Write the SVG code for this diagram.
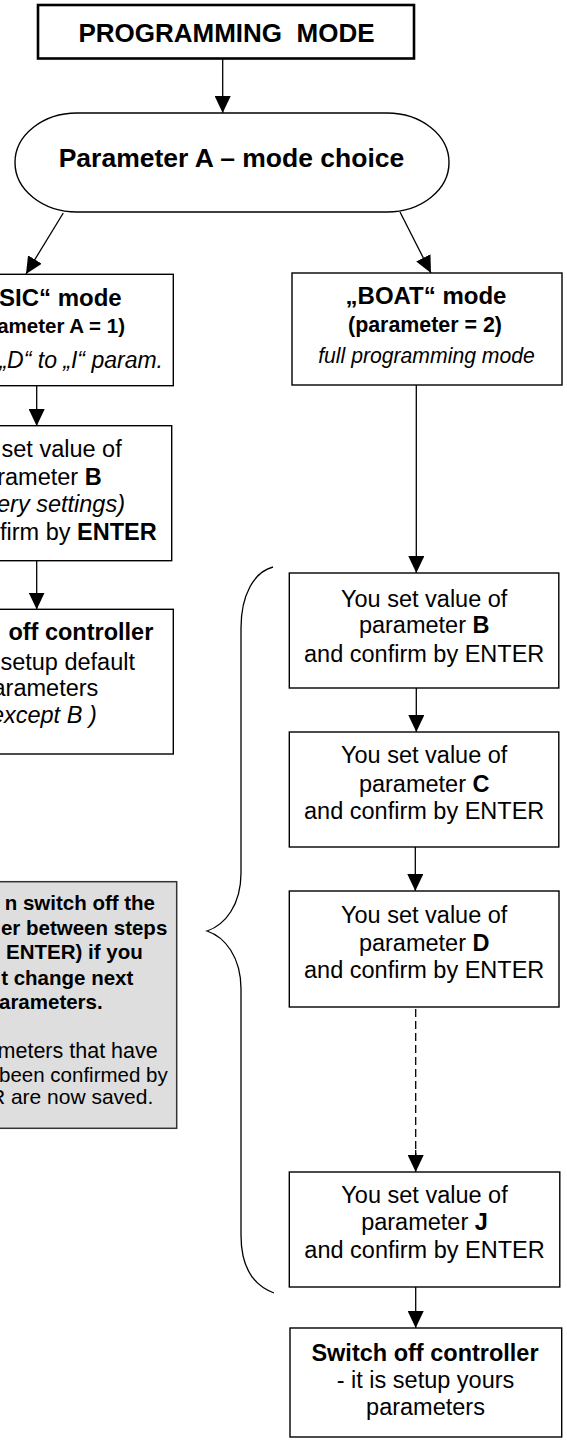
<svg xmlns="http://www.w3.org/2000/svg" width="567" height="1441" viewBox="0 0 567 1441">
<style>
.box{fill:#fff;stroke:#000;stroke-width:1.4}
.note{fill:#dedede;stroke:#333;stroke-width:1.5}
.t{font-family:"Liberation Sans",Arial,Helvetica,sans-serif;fill:#000;text-anchor:middle}
.e{text-anchor:end}
.b{font-weight:bold}
.i{font-style:italic}
.s235{font-size:23.5px}
.s205{font-size:20.5px}
.conn{stroke:#000;stroke-width:1.3;fill:none}
.dash{stroke-dasharray:8 4}
</style>
<defs>
<marker id="ah" viewBox="0 0 17 16" refX="17" refY="8" markerWidth="17" markerHeight="16" markerUnits="userSpaceOnUse" orient="auto">
<path d="M0,0 L17,8 L0,16 Z" fill="#000"/>
</marker>
</defs>

<g id="connectors">
<line class="conn" x1="222.7" y1="59" x2="222.7" y2="113" marker-end="url(#ah)"/>
<line class="conn" x1="63.3" y1="213" x2="26" y2="274" marker-end="url(#ah)"/>
<line class="conn" x1="400" y1="212" x2="431" y2="273" marker-end="url(#ah)"/>
<line class="conn" x1="36.7" y1="386" x2="36.7" y2="426" marker-end="url(#ah)"/>
<line class="conn" x1="36.7" y1="561" x2="36.7" y2="609.5" marker-end="url(#ah)"/>
<line class="conn" x1="416.3" y1="385" x2="416.3" y2="573" marker-end="url(#ah)"/>
<line class="conn" x1="416.3" y1="688" x2="416.3" y2="732" marker-end="url(#ah)"/>
<line class="conn" x1="415.3" y1="847" x2="415.3" y2="891" marker-end="url(#ah)"/>
<line class="conn dash" x1="415.7" y1="1009" x2="415.7" y2="1156"/>
<line class="conn" x1="415.7" y1="1150" x2="415.7" y2="1172" marker-end="url(#ah)"/>
<line class="conn" x1="415.7" y1="1287" x2="415.7" y2="1328" marker-end="url(#ah)"/>
<path class="conn" d="M273,567 C254,572 241,595 241,628 V873 C241,905 225,925 207,931 C225,937 241,957 241,989 V1235 C241,1265 252,1285 274,1293"/>
</g>

<g id="programming-mode">
<rect x="38" y="5" width="376" height="53.5" fill="#fff" stroke="#000" stroke-width="2.6"/>
<text class="t b" x="226.5" y="41.7" font-size="26" xml:space="preserve">PROGRAMMING  MODE</text>
</g>

<g id="param-a">
<path class="box" d="M77,113 H387 A62,49.5 0 0 1 387,212 H77 A62,49.5 0 0 1 77,113 Z"/>
<text class="t b" x="231.5" y="167" font-size="26.5">Parameter A – mode choice</text>
</g>

<g id="basic-mode">
<rect class="box" x="-99" y="274.3" width="272.3" height="111.4"/>
<text class="t e b" x="121.7" y="306" font-size="24">SIC“ mode</text>
<text class="t e b" x="125" y="333" font-size="20.5">ameter A = 1)</text>
<text class="t e i" x="163" y="368" font-size="23">„D“ to „I“ param.</text>
</g>

<g id="basic-set-b">
<rect class="box" x="-99" y="425.7" width="270.7" height="135"/>
<text class="t e s235" x="121.7" y="457">set value of</text>
<text class="t e s235" x="101.7" y="485">rameter <tspan class="b">B</tspan></text>
<text class="t e s235 i" x="125" y="511.7">ery settings)</text>
<text class="t e s235" x="156.7" y="540">firm by <tspan class="b">ENTER</tspan></text>
</g>

<g id="basic-switch-off">
<rect class="box" x="-99" y="609.3" width="272.3" height="144.7"/>
<text class="t e s235 b" x="153.3" y="640">off controller</text>
<text class="t e s235" x="135" y="670">setup default</text>
<text class="t e s235" x="98.3" y="696">arameters</text>
<text class="t e s235 i" x="96.7" y="723.3">except B )</text>
</g>

<g id="note">
<rect class="note" x="-99" y="881.7" width="275.7" height="246.6"/>
<text class="t e s205 b" x="155" y="910">n switch off the</text>
<text class="t e s205 b" x="167.3" y="935">er between steps</text>
<text class="t e s205 b" x="142.7" y="959.3">ENTER) if you</text>
<text class="t e s205 b" x="133.3" y="985">t change next</text>
<text class="t e s205 b" x="102.7" y="1009.3">arameters.</text>
<text class="t e" x="157.7" y="1058.3" font-size="21.5">meters that have</text>
<text class="t e s205" x="167.7" y="1081.7">been confirmed by</text>
<text class="t e" x="153.3" y="1104" font-size="21">R are now saved.</text>
</g>

<g id="boat-mode">
<rect class="box" x="292" y="273" width="270" height="112"/>
<text class="t b" x="426" y="304" font-size="24">„BOAT“ mode</text>
<text class="t b" x="425" y="331.7" font-size="21.4">(parameter = 2)</text>
<text class="t i" x="426.5" y="362.7" font-size="21.2">full programming mode</text>
</g>

<g id="set-b">
<rect class="box" x="289.3" y="573" width="269.5" height="115"/>
<text class="t s235" x="424.2" y="606.7">You set value of</text>
<text class="t s235" x="424.2" y="633.3">parameter <tspan class="b">B</tspan></text>
<text class="t s235" x="424.2" y="661.7">and confirm by ENTER</text>
</g>

<g id="set-c">
<rect class="box" x="289.3" y="732" width="269.5" height="115"/>
<text class="t s235" x="424.2" y="763.3">You set value of</text>
<text class="t s235" x="424.2" y="791.7">parameter <tspan class="b">C</tspan></text>
<text class="t s235" x="424.2" y="819.3">and confirm by ENTER</text>
</g>

<g id="set-d">
<rect class="box" x="289.3" y="891" width="269.7" height="116"/>
<text class="t s235" x="424.2" y="923.3">You set value of</text>
<text class="t s235" x="424.2" y="951">parameter <tspan class="b">D</tspan></text>
<text class="t s235" x="424.2" y="978.3">and confirm by ENTER</text>
</g>

<g id="set-j">
<rect class="box" x="289.3" y="1172" width="270.5" height="115"/>
<text class="t s235" x="424.5" y="1202.7">You set value of</text>
<text class="t s235" x="424.5" y="1230">parameter <tspan class="b">J</tspan></text>
<text class="t s235" x="424.5" y="1258.3">and confirm by ENTER</text>
</g>

<g id="switch-off">
<rect class="box" x="290" y="1328" width="271.7" height="109"/>
<text class="t s235 b" x="425" y="1360.7">Switch off controller</text>
<text class="t s235" x="425.5" y="1388.3">- it is setup yours</text>
<text class="t s235" x="425.5" y="1415">parameters</text>
</g>
</svg>
